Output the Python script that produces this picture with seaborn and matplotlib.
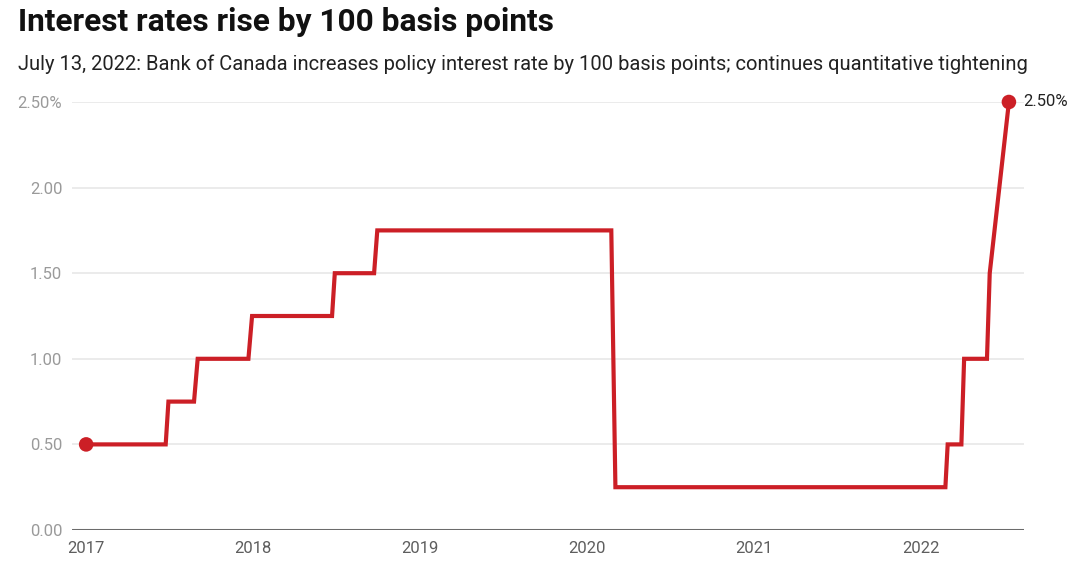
import matplotlib
matplotlib.use("Agg")
import matplotlib.pyplot as plt
import seaborn as sns
import pandas as pd

# ---- data ----
dates = ["2017-01-01", "2017-06-24", "2017-06-30", "2017-08-25", "2017-09-02",
         "2017-12-22", "2017-12-30", "2018-06-23", "2018-06-29", "2018-09-23",
         "2018-09-30", "2020-02-24", "2020-03-04", "2022-02-24", "2022-03-01",
         "2022-03-31", "2022-04-06", "2022-05-26", "2022-06-01", "2022-07-13"]
rates = [0.50, 0.50, 0.75, 0.75, 1.00,
         1.00, 1.25, 1.25, 1.50, 1.50,
         1.75, 1.75, 0.25, 0.25, 0.50,
         0.50, 1.00, 1.00, 1.50, 2.50]
y_ticks = [0.0, 0.5, 1.0, 1.5, 2.0, 2.5]
y_labels = ["0.00", "0.50", "1.00", "1.50", "2.00", "2.50%"]
x_years = ["2017", "2018", "2019", "2020", "2021", "2022"]
title = "Interest rates rise by 100 basis points"
subtitle = ("July 13, 2022: Bank of Canada increases policy interest rate by 100 "
            "basis points; continues quantitative tightening")
end_label = "2.50%"

df = pd.DataFrame({"date": pd.to_datetime(dates), "rate": rates})
ends = df.iloc[[0, -1]]

RED = "#cc1f26"

sns.set_theme(style="white")
plt.rcParams["font.family"] = ["Roboto", "DejaVu Sans"]

fig = plt.figure(figsize=(10.8, 5.63), dpi=100)
ax = fig.add_axes([72 / 1080, 1 - 530 / 563, (1024 - 72) / 1080, (530 - 102) / 563])

for yv in y_ticks[1:]:
    ax.axhline(yv, color="#e8e8e8", lw=1.2, zorder=0)
ax.axhline(0, color="#6b6b6b", lw=2.2, zorder=1)

sns.lineplot(data=df, x="date", y="rate", ax=ax, color=RED, lw=3.0,
             zorder=3, solid_joinstyle="miter", estimator=None, sort=False)
sns.scatterplot(data=ends, x="date", y="rate", ax=ax, color=RED, s=110,
                edgecolor="none", zorder=4, clip_on=False)

ax.set_xlim(pd.Timestamp("2016-12-01"), pd.Timestamp("2022-08-15"))
ax.set_ylim(0, 2.5)
ax.set_yticks(y_ticks)
ax.set_yticklabels(y_labels)
ax.set_xticks([pd.Timestamp(f"{y}-01-01") for y in x_years])
ax.set_xticklabels(x_years)
ax.tick_params(axis="y", length=0, pad=7, labelsize=12, labelcolor="#9a9a9a")
ax.tick_params(axis="x", length=0, pad=8, labelsize=12, labelcolor="#5e5e5e")
ax.set_xlabel("")
ax.set_ylabel("")
for s in ax.spines.values():
    s.set_visible(False)

last = df.iloc[-1]
ax.annotate(end_label, xy=(last["date"], last["rate"]), xytext=(10, 0),
            textcoords="offset points", va="center", ha="left",
            fontsize=12, color="#222222", annotation_clip=False)

fig.text(18 / 1080, 1 - 22 / 563, title, fontsize=22.8, fontweight="bold",
         color="#111111", va="center", ha="left")
fig.text(18 / 1080, 1 - 64 / 563, subtitle, fontsize=14.5, color="#222222",
         va="center", ha="left")

fig.savefig("out.png", dpi=100)
